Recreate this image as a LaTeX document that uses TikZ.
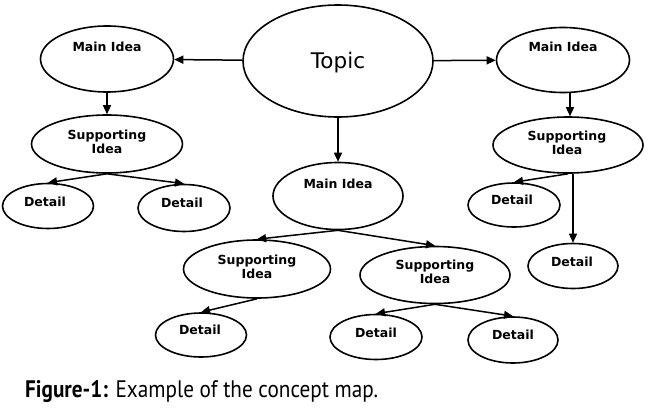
\documentclass[tikz,border=0pt]{standalone}
\usepackage{fontspec}
\usetikzlibrary{shapes.geometric,arrows.meta}
\newfontfamily\dvs{DejaVu Sans}
\newfontfamily\capfont{PT Sans}
\tikzset{
  ell/.style={draw, ellipse, line width=1.6pt, inner sep=0pt},
  lbl/.style={font=\dvs\bfseries\fontsize{12.5}{14}\selectfont, align=center, inner sep=0pt},
  arr/.style={line width=1.5pt, -{Triangle[length=9pt,width=8pt]}},
  ln/.style={line width=1.5pt}
}
\begin{document}
\begin{tikzpicture}[x=1pt,y=-1pt]
\useasboundingbox (0,0) rectangle (650,410);
% ellipses
\node[ell, minimum width=190pt, minimum height=112pt] (topic) at (338,61) {};
\node[ell, minimum width=133pt, minimum height=66pt] (m1) at (107,59) {};
\node[ell, minimum width=133pt, minimum height=65pt] (m2) at (563,60) {};
\node[ell, minimum width=130pt, minimum height=67pt] (mc) at (338,196) {};
\node[ell, minimum width=151pt, minimum height=58pt] (sl) at (107,144) {};
\node[ell, minimum width=150pt, minimum height=56pt] (sr) at (568,145) {};
\node[ell, minimum width=147pt, minimum height=58pt] (scl) at (257,269) {};
\node[ell, minimum width=150pt, minimum height=57pt] (scr) at (435,275) {};
\node[ell, minimum width=91pt, minimum height=45pt] (dl1) at (48,206) {};
\node[ell, minimum width=92pt, minimum height=47pt] (dl2) at (184,208) {};
\node[ell, minimum width=92pt, minimum height=44pt] (dr1) at (514,205) {};
\node[ell, minimum width=90pt, minimum height=45pt] (dr2) at (573,266) {};
\node[ell, minimum width=91pt, minimum height=44pt] (dbl) at (201,335) {};
\node[ell, minimum width=92pt, minimum height=45pt] (dbm) at (376,337) {};
\node[ell, minimum width=90pt, minimum height=46pt] (dbr) at (513,340) {};
% texts
\node[inner sep=0pt, font=\dvs\fontsize{21.5}{24}\selectfont] (topict) at (338,63) {Topic};
\node[lbl] (m1t) at (107,47) {Main Idea};
\node[lbl] (m2t) at (563,47) {Main Idea};
\node[lbl] (mct) at (338,184) {Main Idea};
\node[lbl] (slt) at (107,142) {Supporting\\Idea};
\node[lbl] (srt) at (567,143) {Supporting\\Idea};
\node[lbl] (sclt) at (257,267) {Supporting\\Idea};
\node[lbl] (scrt) at (435,272) {Supporting\\Idea};
\node[lbl] (dl1t) at (45,202) {Detail};
\node[lbl] (dl2t) at (182,203) {Detail};
\node[lbl] (dr1t) at (512,200) {Detail};
\node[lbl] (dr2t) at (572,262) {Detail};
\node[lbl] (dblt) at (200,330) {Detail};
\node[lbl] (dbmt) at (376,333) {Detail};
\node[lbl] (dbrt) at (513,335) {Detail};
% connectors
\draw[arr] (topic) -- (m1);
\draw[arr] (topic) -- (m2);
\draw[arr] (topic) -- (mc);
\draw[arr] (m1) -- (sl);
\draw[arr] (m2.south -| 570,0) -- (sr.north -| 570,0);
\draw[arr] (sl.south) -- (dl1.north);
\draw[arr] (sl.south) -- (dl2.north);
\draw[arr] (sr.south) -- (dr1.north);
\draw[arr] (dr2.north |- sr.south) -- (dr2.north);
\draw[arr] (mc.south) -- (scl.north);
\draw[arr] (mc.south) -- (scr.north);
\draw[arr] (scl.south) -- (dbl.north);
\draw[arr] (scr.south) -- (dbm.north);
\draw[arr] (scr.south) -- (dbr.north);
% caption
\node[anchor=base west, inner sep=0pt] (cap) at (25,397) {\resizebox{353pt}{17pt}{\capfont\textbf{Figure-1:} Example of the concept map.}};
\end{tikzpicture}
\end{document}
